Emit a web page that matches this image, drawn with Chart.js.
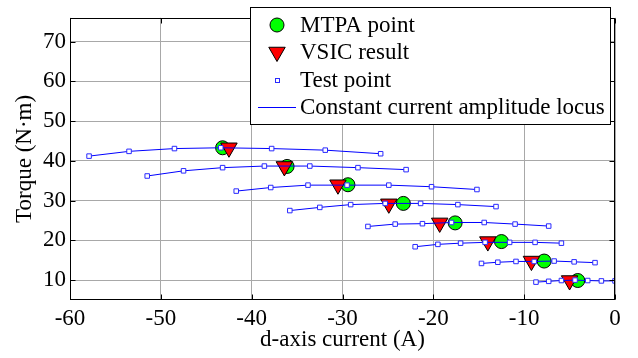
<!DOCTYPE html>
<html>
<head>
<meta charset="utf-8">
<script src="https://cdn.jsdelivr.net/npm/chart.js@4.4.0/dist/chart.umd.min.js"></script>
<style>
    html, body { margin: 0; padding: 0; background: #fff; }
    #wrap { width: 638px; height: 358px; position: relative; }
</style>
</head>
<body>
<div id="wrap"><canvas id="torqueChart"></canvas></div>
<script>
// d-axis current (A) of the test points, one row per constant current locus
const locusCurrentD = [
    [-57.9, -53.5, -48.5, -43.4, -37.8, -31.9, -25.8],
    [-51.5, -47.5, -43.2, -38.6, -33.6, -28.3, -23.0],
    [-41.7, -37.9, -33.8, -29.5, -24.9, -20.2, -15.2],
    [-35.8, -32.5, -29.1, -25.3, -21.4, -17.3, -13.1],
    [-27.2, -24.2, -21.2, -18.0, -14.4, -11.0, -7.3],
    [-22.0, -19.5, -17.0, -14.3, -11.6, -8.8, -5.9],
    [-14.7, -12.9, -10.9, -8.9, -6.7, -4.5, -2.2],
    [-8.7, -7.3, -5.9, -4.4, -3.0, -1.5, 0.0]
];
// torque (N·m) of the same test points
const locusTorque = [
    [41.2, 42.4, 43.1, 43.3, 43.1, 42.7, 41.8],
    [36.2, 37.5, 38.3, 38.7, 38.7, 38.3, 37.8],
    [32.4, 33.3, 33.9, 33.9, 33.9, 33.5, 32.8],
    [27.5, 28.3, 29.0, 29.3, 29.3, 29.0, 28.5],
    [23.5, 24.1, 24.2, 24.5, 24.5, 24.1, 23.6],
    [18.4, 19.0, 19.3, 19.5, 19.5, 19.5, 19.3],
    [14.2, 14.5, 14.7, 14.7, 14.8, 14.6, 14.4],
    [9.5, 9.7, 9.9, 10.0, 9.9, 9.8, 9.8]
];
const mtpaCurrentD = [-43.2, -36.1, -29.4, -23.3, -17.6, -12.5, -7.8, -4.1];
const mtpaTorque = [43.3, 38.6, 34.0, 29.3, 24.4, 19.7, 14.8, 9.9];
const vsicCurrentD = [-42.5, -36.4, -30.5, -24.9, -19.3, -14.0, -9.2, -5.0];
const vsicTorque = [43.3, 38.6, 34.0, 29.2, 24.4, 19.7, 14.8, 9.9];
const xTicks = [-60, -50, -40, -30, -20, -10, 0];
const yTicks = [10, 20, 30, 40, 50, 60, 70];

const serif = '"Liberation Serif", "Times New Roman", serif';
const fontSize = 23;

function toPoints(xs, ys) {
    return xs.map((x, i) => ({ x: x, y: ys[i] }));
}

const datasets = [];
// loci first so they are painted on top of the markers
locusCurrentD.forEach((row, i) => {
    datasets.push({
        label: 'locus ' + (i + 1),
        data: toPoints(row, locusTorque[i]),
        showLine: true,
        borderColor: '#0000ff',
        borderWidth: 1,
        pointStyle: 'rect',
        pointRadius: 3.2,
        pointBorderWidth: 1,
        pointBorderColor: '#2a2aff',
        pointBackgroundColor: '#ffffff'
    });
});
datasets.push({
    label: 'VSIC result',
    data: toPoints(vsicCurrentD, vsicTorque),
    showLine: false,
    pointStyle: 'triangle',
    rotation: 180,
    pointRadius: 9.5,
    pointBorderWidth: 1,
    pointBorderColor: '#000',
    pointBackgroundColor: '#ff0000'
});
datasets.push({
    label: 'MTPA point',
    data: toPoints(mtpaCurrentD, mtpaTorque),
    showLine: false,
    pointStyle: 'circle',
    pointRadius: 7,
    pointBorderWidth: 1,
    pointBorderColor: '#000',
    pointBackgroundColor: '#00ff00'
});

// box, inner tick marks and the legend box
const frame = {
    id: 'frame',
    afterDraw(chart) {
        const ctx = chart.ctx;
        const a = chart.chartArea;
        const sx = chart.scales.x, sy = chart.scales.y;
        const l = Math.round(a.left) + 0.5, r = Math.round(a.right) - 0.5;
        const t = Math.round(a.top) + 0.5, b = Math.round(a.bottom) - 0.5;
        ctx.save();
        ctx.strokeStyle = '#000';
        ctx.lineWidth = 1;
        ctx.beginPath();
        xTicks.forEach(v => {
            const px = Math.round(sx.getPixelForValue(v)) + 0.5;
            ctx.moveTo(px, b); ctx.lineTo(px, b - 5);
            ctx.moveTo(px, t); ctx.lineTo(px, t + 5);
        });
        yTicks.forEach(v => {
            const py = Math.round(sy.getPixelForValue(v)) + 0.5;
            ctx.moveTo(l, py); ctx.lineTo(l + 5, py);
            ctx.moveTo(r, py); ctx.lineTo(r - 5, py);
        });
        ctx.stroke();
        ctx.strokeRect(l, t, r - l, b - t);

        // legend
        const box = { x: 250.5, y: 7.5, w: 360, h: 117 };
        ctx.fillStyle = '#fff';
        ctx.fillRect(box.x, box.y, box.w, box.h);
        ctx.strokeRect(box.x, box.y, box.w, box.h);
        const mx = 277, tx = 300;
        const rows = [25, 52, 80, 107];
        ctx.font = fontSize + 'px ' + serif;
        ctx.textBaseline = 'middle';
        ctx.textAlign = 'left';

        ctx.beginPath();
        ctx.arc(mx, rows[0], 7, 0, Math.PI * 2);
        ctx.fillStyle = '#00ff00';
        ctx.fill();
        ctx.stroke();

        const tr = 9.5;
        ctx.beginPath();
        ctx.moveTo(mx, rows[1] + tr);
        ctx.lineTo(mx - tr * Math.sin(Math.PI / 3), rows[1] - tr / 2);
        ctx.lineTo(mx + tr * Math.sin(Math.PI / 3), rows[1] - tr / 2);
        ctx.closePath();
        ctx.fillStyle = '#ff0000';
        ctx.fill();
        ctx.stroke();

        ctx.fillStyle = '#fff';
        ctx.strokeStyle = '#2a2aff';
        ctx.fillRect(mx - 2, rows[2] - 2, 4, 4);
        ctx.strokeRect(mx - 2 + 0.5, rows[2] - 2 + 0.5, 4, 4);

        ctx.strokeStyle = '#0000ff';
        ctx.beginPath();
        ctx.moveTo(258, rows[3] + 0.5);
        ctx.lineTo(296, rows[3] + 0.5);
        ctx.stroke();

        ctx.fillStyle = '#000';
        ctx.fillText('MTPA point', tx, rows[0] + 1);
        ctx.fillText('VSIC result', tx, rows[1] + 1);
        ctx.fillText('Test point', tx, rows[2] + 1);
        ctx.fillText('Constant current amplitude locus', tx, rows[3] + 1);
        ctx.restore();
    }
};

const ctx = document.getElementById('torqueChart').getContext('2d');
const chart = new Chart(ctx, {
    type: 'scatter',
    data: { datasets: datasets },
    options: {
        responsive: true,
        maintainAspectRatio: false,
        animation: false,
        layout: { padding: { top: 1, right: 23, bottom: 0, left: 0 } },
        plugins: {
            legend: { display: false },
            tooltip: { enabled: false }
        },
        scales: {
            x: {
                type: 'linear',
                min: -60,
                max: 0,
                afterBuildTicks: s => { s.ticks = xTicks.map(v => ({ value: v })); },
                afterFit: s => { s.height = 58; },
                grid: { color: '#a8a8a8', drawTicks: false },
                border: { display: false },
                ticks: { color: '#000', padding: 5, font: { family: serif, size: fontSize } },
                title: {
                    display: true,
                    text: 'd-axis current (A)',
                    color: '#000',
                    font: { family: serif, size: fontSize },
                    padding: { top: 0, bottom: 4 }
                }
            },
            y: {
                type: 'linear',
                min: 5,
                max: 76,
                afterBuildTicks: s => { s.ticks = yTicks.map(v => ({ value: v })); },
                afterFit: s => { s.width = 70; },
                grid: { color: '#a8a8a8', drawTicks: false },
                border: { display: false },
                ticks: { color: '#000', padding: 4, font: { family: serif, size: fontSize } },
                title: {
                    display: true,
                    text: 'Torque (N·m)',
                    color: '#000',
                    font: { family: serif, size: fontSize },
                    padding: { top: 11, bottom: 0 }
                }
            }
        }
    },
    plugins: [frame]
});
</script>
</body>
</html>
